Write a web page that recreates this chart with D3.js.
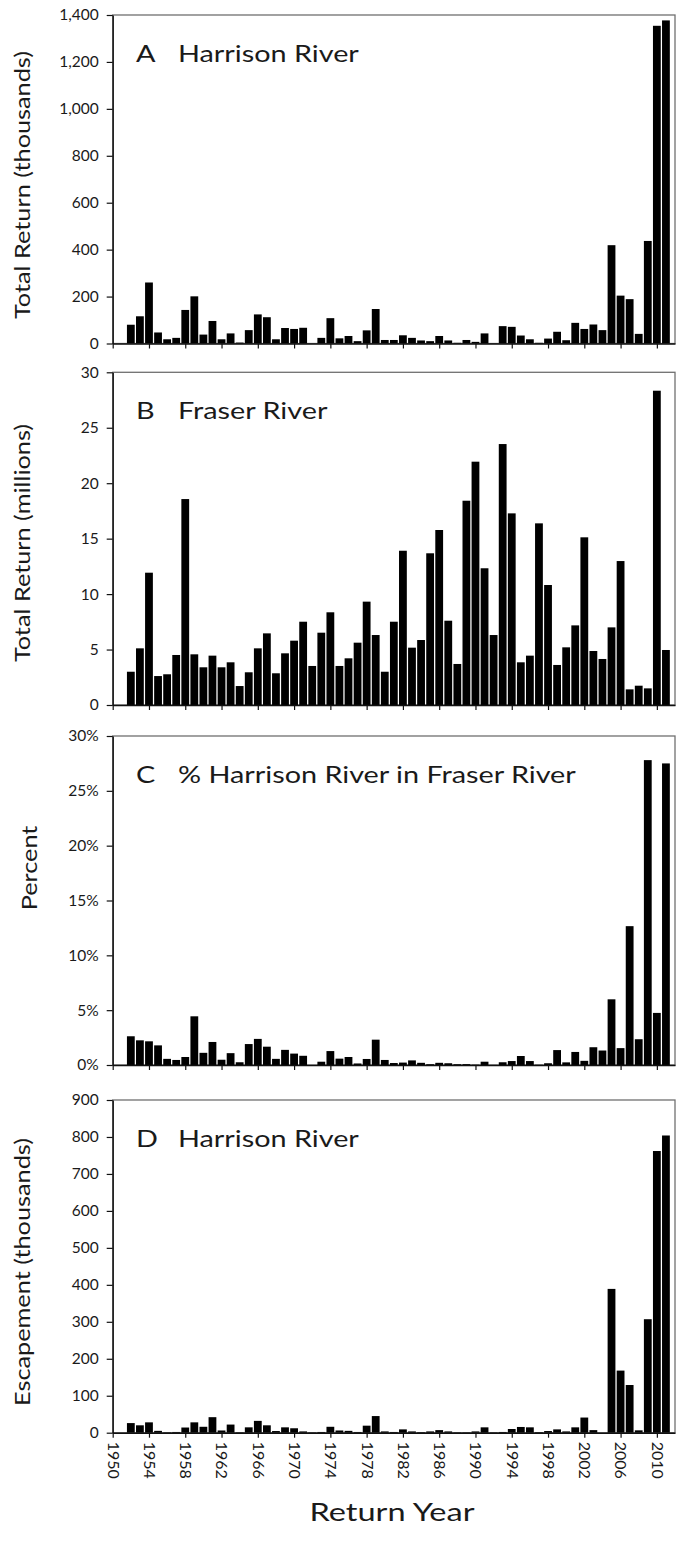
<!DOCTYPE html>
<html>
<head>
<meta charset="utf-8">
<script src="https://cdn.jsdelivr.net/npm/d3@7"></script>
<style>
  body { margin: 0; background: #fff; }
  text { font-family: Lato, "Open Sans", sans-serif; fill: #1a1a1a; }
</style>
</head>
<body>
<svg id="chart" width="683" height="1541"></svg>
<script>
// Return years, 1952–2011
const years = [
  1952, 1953, 1954, 1955, 1956, 1957, 1958, 1959, 1960, 1961,
  1962, 1963, 1964, 1965, 1966, 1967, 1968, 1969, 1970, 1971,
  1972, 1973, 1974, 1975, 1976, 1977, 1978, 1979, 1980, 1981,
  1982, 1983, 1984, 1985, 1986, 1987, 1988, 1989, 1990, 1991,
  1992, 1993, 1994, 1995, 1996, 1997, 1998, 1999, 2000, 2001,
  2002, 2003, 2004, 2005, 2006, 2007, 2008, 2009, 2010, 2011
];

// A: Harrison River total return (thousands)
const harrisonReturn = [
  80, 116, 260, 47, 18, 24, 143, 201, 38, 96,
  18, 43, 4, 57, 124, 112, 18, 66, 62, 67,
  0, 24, 108, 22, 32, 10, 56, 147, 15, 15,
  35, 24, 13, 10, 32, 13, 3, 15, 7, 43,
  1, 74, 71, 34, 18, 3, 21, 50, 14, 88,
  62, 81, 57, 419, 204, 189, 41, 437, 1354, 1377
];

// B: Fraser River total return (millions)
const fraserReturn = [
  3.00, 5.11, 11.93, 2.61, 2.77, 4.51, 18.57, 4.57, 3.40, 4.45,
  3.40, 3.85, 1.71, 2.95, 5.11, 6.46, 2.86, 4.66, 5.80, 7.51,
  3.52, 6.52, 8.36, 3.52, 4.21, 5.62, 9.32, 6.31, 3.00, 7.51,
  13.91, 5.17, 5.86, 13.68, 15.78, 7.60, 3.70, 18.42, 21.94, 12.33,
  6.31, 23.53, 17.28, 3.85, 4.45, 16.38, 10.82, 3.61, 5.20, 7.18,
  15.12, 4.87, 4.15, 7.00, 12.98, 1.41, 1.74, 1.50, 28.34, 4.96
];

// C: Harrison River share of the Fraser River return (percent)
const harrisonShare = [
  2.62, 2.25, 2.16, 1.79, 0.56, 0.46, 0.73, 4.44, 1.11, 2.10,
  0.48, 1.08, 0.25, 1.91, 2.38, 1.67, 0.56, 1.38, 1.04, 0.84,
  0, 0.30, 1.27, 0.58, 0.73, 0.14, 0.55, 2.31, 0.46, 0.18,
  0.22, 0.42, 0.20, 0.07, 0.20, 0.16, 0.07, 0.08, 0.03, 0.30,
  0.01, 0.25, 0.36, 0.82, 0.36, 0.02, 0.16, 1.36, 0.24, 1.19,
  0.38, 1.62, 1.32, 5.99, 1.54, 12.66, 2.35, 27.8, 4.75, 27.5
];

// D: Harrison River escapement (thousands)
const harrisonEscapement = [
  26, 20, 28, 5, 1, 2, 14, 28, 16, 42,
  6, 22, 1, 14.5, 32, 20, 4.5, 14.5, 12, 3.5,
  1, 2, 16, 6, 5, 2, 19, 45, 3.5, 2,
  9, 3.5, 1.5, 3.5, 7, 3.5, 1, 1, 3.5, 14.5,
  1, 2, 10, 15.5, 14.5, 1.5, 4.5, 9, 3.5, 14.5,
  41, 7, 0, 389, 168, 129, 6.4, 307, 762, 804
];

// Tick values
const yearTicks = [1950, 1954, 1958, 1962, 1966, 1970, 1974, 1978, 1982, 1986, 1990, 1994, 1998, 2002, 2006, 2010];
const ticksA = [0, 200, 400, 600, 800, 1000, 1200, 1400];
const ticksB = [0, 5, 10, 15, 20, 25, 30];
const ticksC = [0, 5, 10, 15, 20, 25, 30];
const ticksD = [0, 100, 200, 300, 400, 500, 600, 700, 800, 900];

const svg = d3.select("#chart");

const left = 112.7, right = 675;
const x = d3.scaleLinear().domain([1950, 2012]).range([left, right]);
const step = x(1951) - x(1950);
const barW = step * 0.86;

// the typeface is set a little wide throughout
const wide = 1.2;

const panels = [
  { letter: "A", title: "Harrison River", values: harrisonReturn, ticks: ticksA,
    fmt: d3.format(","), yTitle: "Total Return (thousands)", top: 15, bottom: 343.5, yTitleY: 185, yTitleX: 30 },
  { letter: "B", title: "Fraser River", values: fraserReturn, ticks: ticksB,
    fmt: d3.format("d"), yTitle: "Total Return (millions)", top: 372.3, bottom: 705, yTitleY: 543, yTitleX: 30 },
  { letter: "C", title: "% Harrison River in Fraser River", values: harrisonShare, ticks: ticksC,
    fmt: d => d + "%", yTitle: "Percent", top: 736, bottom: 1065, yTitleY: 868, yTitleX: 37 },
  { letter: "D", title: "Harrison River", values: harrisonEscapement, ticks: ticksD,
    fmt: d3.format("d"), yTitle: "Escapement (thousands)", top: 1100, bottom: 1432.7, yTitleY: 1272, yTitleX: 30 }
];

panels.forEach((p, i) => {
  const y = d3.scaleLinear()
    .domain([0, d3.max(p.ticks)])
    .range([p.bottom, p.top]);

  const g = svg.append("g");

  // plot-area frame
  g.append("rect")
    .attr("x", left).attr("y", p.top)
    .attr("width", right - left).attr("height", p.bottom - p.top)
    .attr("fill", "none").attr("stroke", "#707070").attr("stroke-width", 1.3);

  // bars
  g.append("g").selectAll("rect")
    .data(years.map((yr, k) => ({ yr, v: p.values[k] })))
    .join("rect")
    .attr("x", d => x(d.yr) - barW / 2)
    .attr("width", barW)
    .attr("y", d => y(d.v))
    .attr("height", d => p.bottom - y(d.v))
    .attr("fill", "#000");

  // y axis
  const ya = g.append("g")
    .attr("transform", `translate(${left},0)`)
    .call(d3.axisLeft(y).tickValues(p.ticks).tickFormat(p.fmt).tickSize(6).tickSizeOuter(0).tickPadding(8));
  ya.select(".domain").attr("stroke", "#111").attr("stroke-width", 1.4);
  ya.selectAll(".tick line").attr("stroke", "#111").attr("stroke-width", 1.2);
  ya.selectAll(".tick text")
    .attr("font-size", 15.5).attr("font-family", "Lato, sans-serif").attr("fill", "#1a1a1a");

  // x axis
  const last = i === panels.length - 1;
  const xa = g.append("g")
    .attr("transform", `translate(0,${p.bottom})`)
    .call(d3.axisBottom(x).tickValues(yearTicks)
      .tickFormat(last ? d3.format("d") : () => "")
      .tickSize(5).tickSizeOuter(0));
  xa.select(".domain").attr("stroke", "#111").attr("stroke-width", 1.4);
  xa.selectAll(".tick line").attr("stroke", "#111").attr("stroke-width", 1.2);
  xa.selectAll(".tick text")
    .attr("font-size", 16).attr("font-family", "Lato, sans-serif").attr("fill", "#1a1a1a")
    .attr("transform", "rotate(90)")
    .attr("x", 9).attr("y", 0).attr("dy", "0.35em")
    .attr("text-anchor", "start");

  // panel label
  const ty = p.top + 47;
  g.append("text")
    .attr("transform", `translate(136,${ty}) scale(${wide},1)`)
    .attr("font-size", 24)
    .text(p.letter);
  g.append("text")
    .attr("transform", `translate(178,${ty}) scale(${wide},1)`)
    .attr("font-size", 24)
    .text(p.title);

  // y axis title
  g.append("text")
    .attr("transform", `translate(${p.yTitleX},${p.yTitleY}) rotate(-90) scale(1.15,1)`)
    .attr("text-anchor", "middle")
    .attr("font-size", 22)
    .text(p.yTitle);
});

// x axis title
svg.append("text")
  .attr("transform", `translate(392,1521) scale(1.3,1)`)
  .attr("text-anchor", "middle")
  .attr("font-size", 25)
  .text("Return Year");
</script>
</body>
</html>
